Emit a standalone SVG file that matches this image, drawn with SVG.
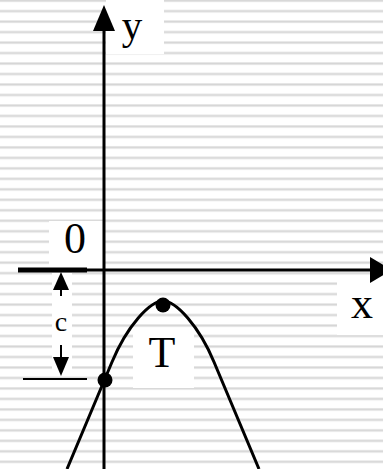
<svg xmlns="http://www.w3.org/2000/svg" width="383" height="469" viewBox="0 0 383 469">
  <style>
    .lbl { font-family: "Liberation Serif", "Times New Roman", serif; font-size: 44px; fill: #000; text-anchor: middle; }
    .ylbl { font-size: 41px; }
    .small { font-size: 28px; }
    .box { fill: #fff; }
    .ln { stroke: #000; fill: none; }
  </style>
  <defs>
    <pattern id="stripes" x="0" y="-0.8" width="10" height="10.48" patternUnits="userSpaceOnUse">
      <rect x="0" y="0" width="10" height="3" fill="#e6e6e6"/>
      <rect x="0" y="1" width="10" height="1" fill="#d6d6d6"/>
    </pattern>
  </defs>
  <rect width="383" height="469" fill="#fff"/>
  <rect width="383" height="469" fill="url(#stripes)"/>

  <!-- label boxes -->
  <g id="labelboxes">
    <rect class="box" x="106" y="0" width="58" height="54"/>
    <rect class="box" x="49" y="221" width="54" height="46"/>
    <rect class="box" x="52" y="273" width="20" height="99"/>
    <rect class="box" x="133" y="333" width="61" height="55"/>
    <rect class="box" x="337" y="277" width="46" height="58"/>
  </g>

  <g id="connectors">
    <!-- y axis -->
    <line class="ln" x1="104" y1="469" x2="104" y2="28" stroke-width="3"/>
    <polygon points="104,5 93,31 115,31" fill="#000"/>
    <!-- x axis -->
    <line class="ln" x1="18" y1="270" x2="372" y2="270" stroke-width="3"/>
    <line class="ln" x1="18" y1="270" x2="87" y2="270" stroke-width="5"/>
    <polygon points="392,270 370,257 370,283" fill="#000"/>
    <!-- c dimension -->
    <line class="ln" x1="23" y1="379" x2="87" y2="379" stroke-width="2"/>
    <polygon points="61,272 53,290 69,290" fill="#000"/>
    <polygon points="61,376 53,357 69,357" fill="#000"/>
    <line class="ln" x1="61" y1="290" x2="61" y2="296" stroke-width="2"/>
    <line class="ln" x1="61" y1="345" x2="61" y2="358" stroke-width="2"/>
    <!-- parabola -->
    <path class="ln" stroke-width="3" d="M 67,469 L 112,362 C 127,326 150,301 163,301 C 176,301 199,326 214,362 L 259,469"/>
  </g>

  <g id="point-T">
    <circle cx="163" cy="305" r="7.5" fill="#000"/>
    <text class="lbl" x="162" y="367">T</text>
  </g>
  <g id="point-c">
    <circle cx="105" cy="380" r="7.5" fill="#000"/>
  </g>
  <g id="label-y"><text class="lbl ylbl" x="132" y="39">y</text></g>
  <g id="label-0"><text class="lbl" x="75" y="253">0</text></g>
  <g id="label-x"><text class="lbl" x="362" y="318">x</text></g>
  <g id="label-c"><text class="lbl small" x="61" y="331">c</text></g>
</svg>
